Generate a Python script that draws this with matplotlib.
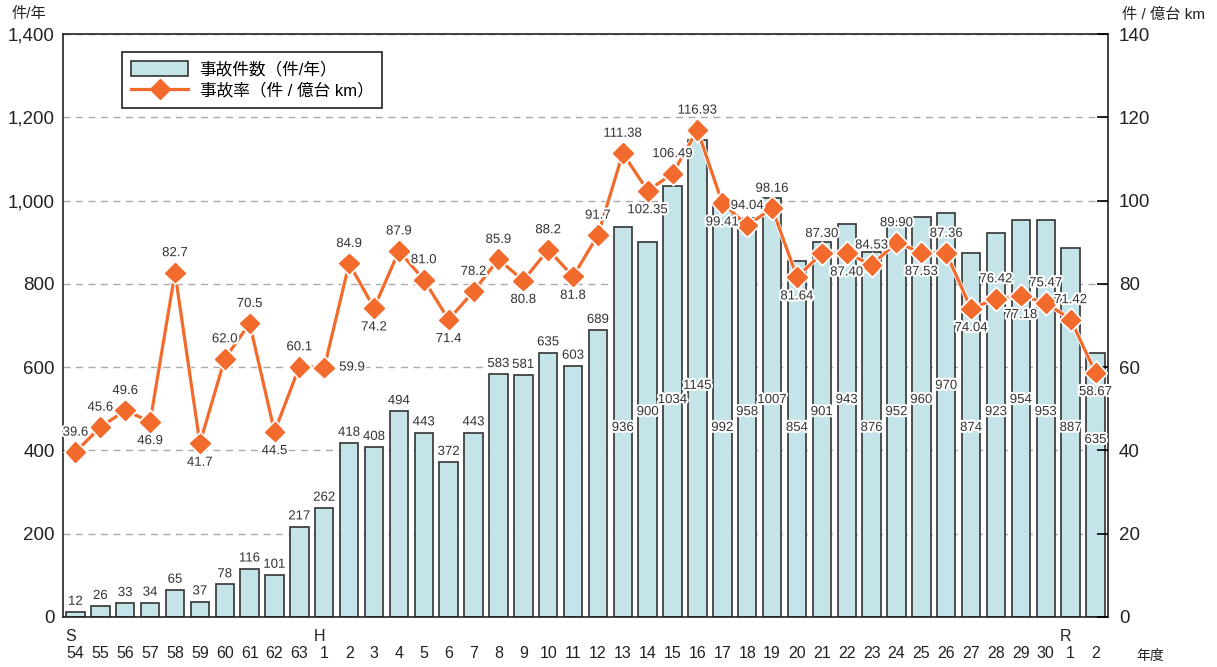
import matplotlib
matplotlib.use("Agg")
import matplotlib.pyplot as plt
import matplotlib.patheffects as pe
from matplotlib.lines import Line2D
from matplotlib.transforms import blended_transform_factory

plt.rcParams['font.family'] = ['Liberation Sans', 'Noto Sans CJK JP', 'DejaVu Sans']

# data
years = ['54', '55', '56', '57', '58', '59', '60', '61', '62', '63',
         '1', '2', '3', '4', '5', '6', '7', '8', '9', '10',
         '11', '12', '13', '14', '15', '16', '17', '18', '19', '20',
         '21', '22', '23', '24', '25', '26', '27', '28', '29', '30',
         '1', '2']
eras = {0: 'S', 10: 'H', 40: 'R'}
accidents = [12, 26, 33, 34, 65, 37, 78, 116, 101, 217,
             262, 418, 408, 494, 443, 372, 443, 583, 581, 635,
             603, 689, 936, 900, 1034, 1145, 992, 958, 1007, 854,
             901, 943, 876, 952, 960, 970, 874, 923, 954, 953,
             887, 635]
rate = [39.6, 45.6, 49.6, 46.9, 82.7, 41.7, 62.0, 70.5, 44.5, 60.1,
        59.9, 84.9, 74.2, 87.9, 81.0, 71.4, 78.2, 85.9, 80.8, 88.2,
        81.8, 91.7, 111.38, 102.35, 106.49, 116.93, 99.41, 94.04, 98.16, 81.64,
        87.30, 87.40, 84.53, 89.90, 87.53, 87.36, 74.04, 76.42, 77.18, 75.47,
        71.42, 58.67]
rate_text = ['39.6', '45.6', '49.6', '46.9', '82.7', '41.7', '62.0', '70.5', '44.5', '60.1',
             '59.9', '84.9', '74.2', '87.9', '81.0', '71.4', '78.2', '85.9', '80.8', '88.2',
             '81.8', '91.7', '111.38', '102.35', '106.49', '116.93', '99.41', '94.04', '98.16', '81.64',
             '87.30', '87.40', '84.53', '89.90', '87.53', '87.36', '74.04', '76.42', '77.18', '75.47',
             '71.42', '58.67']

# label placement for the rate series: a=above, b=below, r=right
rate_pos = list('aaababaaba' 'rabaabaaba' 'baabaabaab' 'abaababab' 'a' 'ab')
# in-bar label heights (left-axis units) from bar 22 onward
inbar_y = [454, 492, 521, 555, 454, 492, 521, 454, 492, 521,
           454, 492, 521, 555, 454, 492, 521, 492, 454, 425]

BAR = '#c4e4ea'
ORANGE = '#f26a2c'
halo = [pe.withStroke(linewidth=3, foreground='white')]

fig = plt.figure(figsize=(12.17, 6.67), dpi=100)
ax = fig.add_axes([0.0518, 0.075, 0.8586, 0.874])
ax2 = ax.twinx()

x = list(range(len(years)))
bars = ax.bar(x, accidents, width=0.74, color=BAR, edgecolor='#333333',
              linewidth=1.2, zorder=2)
ax.set_xlim(-0.5, len(years) - 0.5)
ax.set_ylim(0, 1400)
ax.set_yticks(range(0, 1401, 200))
ax.set_yticklabels([f'{v:,}' for v in range(0, 1401, 200)], fontsize=13.5, color='#222222')
ax.set_axisbelow(True)
ax.yaxis.grid(True, color='#aaaaaa', linestyle=(0, (5, 4)), linewidth=1)
ax.tick_params(axis='y', length=0, pad=6)
ax.set_xticks(x)
ax.set_xticklabels(years, fontsize=11.5, color='#222222')
ax.tick_params(axis='x', length=0, pad=21)
for s in ax.spines.values():
    s.set_linewidth(1.2)
    s.set_color('#222222')

for i, v in enumerate(accidents):
    if i < 22:
        ax.annotate(str(v), (i, v), xytext=(0, 3), textcoords='offset points',
                    ha='center', va='bottom', fontsize=9.5, color='#333333',
                    path_effects=halo, zorder=5)
    else:
        ax.text(i, inbar_y[i - 22], str(v), ha='center', va='center',
                fontsize=9.5, color='#333333', path_effects=halo, zorder=5)

line, = ax2.plot(x, rate, color=ORANGE, linewidth=2.3, marker='D', markersize=10,
                 zorder=3,
                 path_effects=[pe.Stroke(linewidth=3.5, foreground='white'), pe.Normal()])
ax2.set_ylim(0, 140)
ax2.set_yticks(range(0, 141, 20))
ax2.set_yticklabels([str(v) for v in range(0, 141, 20)], fontsize=13.5, color='#222222')
ax2.tick_params(axis='y', direction='in', length=8, width=1.2, pad=8)
for s in ax2.spines.values():
    s.set_visible(False)

offs = {'a': (0, 14), 'b': (0, -14), 'r': (20, 0)}
for i, (v, t, p) in enumerate(zip(rate, rate_text, rate_pos)):
    ax2.annotate(t, (i, v), xytext=offs[p], textcoords='offset points',
                 ha='center', va='center', fontsize=9.5, color='#333333',
                 path_effects=halo, zorder=6)

tr = blended_transform_factory(ax.transData, ax.transAxes)
for i, e in eras.items():
    ax.text(i - 0.2, -0.033, e, transform=tr, ha='center', va='center',
            fontsize=11.5, color='#222222')
ax.text(1.04, -0.067, '年度', transform=ax.transAxes, ha='center', va='center',
        fontsize=10, color='#222222')
fig.text(0.024, 0.979, '件/年', ha='center', va='center', fontsize=11, color='#222222')
fig.text(0.956, 0.977, '件 / 億台 km', ha='center', va='center', fontsize=11, color='#222222')

line_handle = Line2D([], [], color=ORANGE, linewidth=2.3, marker='D', markersize=10)
leg = ax2.legend([bars, line_handle], ['事故件数（件/年）', '事故率（件 / 億台 km）'],
                 loc='upper left', bbox_to_anchor=(0.0565, 0.969), borderaxespad=0,
                 fancybox=False, edgecolor='#222222', framealpha=1, fontsize=12,
                 handlelength=3.4, handleheight=1.0, borderpad=0.55, labelspacing=0.3,
                 handletextpad=0.7)
leg.get_frame().set_linewidth(1.2)

fig.savefig('out.png', dpi=100)
